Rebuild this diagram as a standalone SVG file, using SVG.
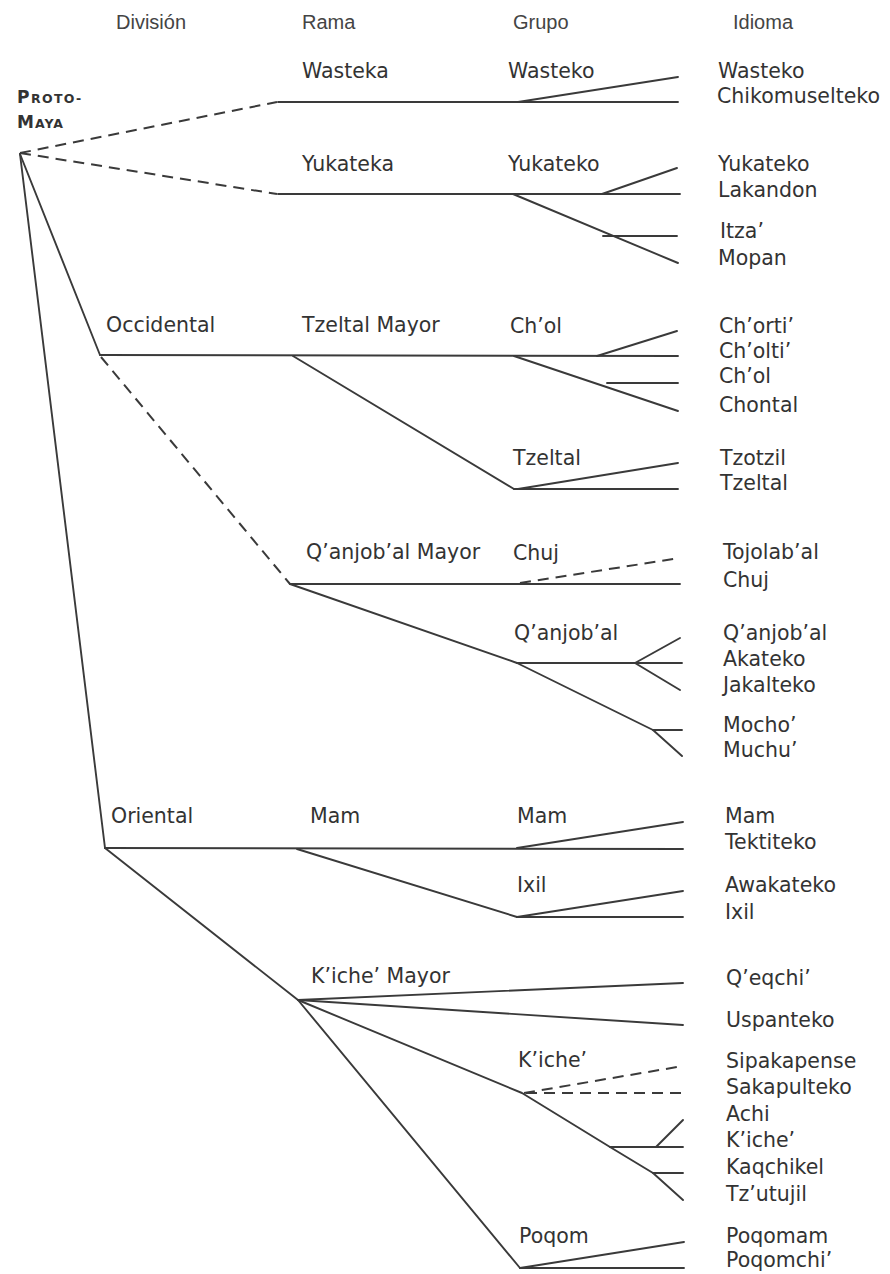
<svg xmlns="http://www.w3.org/2000/svg" width="890" height="1274" viewBox="0 0 890 1274">
<style>
.ln{fill:none;stroke:#3a3a3a;stroke-width:1.9;stroke-linejoin:round;stroke-linecap:round}
.ds{fill:none;stroke:#3a3a3a;stroke-width:2;stroke-dasharray:11 7}
.hd{font-family:"Liberation Sans",Arial,sans-serif;font-size:20px;fill:#444}
.lb{font-family:"DejaVu Sans","Liberation Sans",sans-serif;font-size:20.5px;fill:#333}
.pm{font-family:"DejaVu Sans","Liberation Sans",sans-serif;font-weight:bold;fill:#333}
</style>
<rect width="890" height="1274" fill="#fff"/>
<g id="headers">
<text class="hd" x="116" y="29">División</text>
<text class="hd" x="302" y="29">Rama</text>
<text class="hd" x="513" y="29">Grupo</text>
<text class="hd" x="733" y="29">Idioma</text>
</g>
<g id="connectors">
<line class="ds" x1="20" y1="153" x2="277" y2="102"/>
<line class="ds" x1="20" y1="153" x2="277" y2="194"/>
<line class="ln" x1="20" y1="154" x2="100" y2="355"/>
<line class="ln" x1="20" y1="154" x2="105" y2="848"/>
<line class="ln" x1="278" y1="102" x2="678" y2="102"/>
<line class="ln" x1="518" y1="102" x2="678" y2="77"/>
<line class="ln" x1="278" y1="194" x2="680" y2="194"/>
<line class="ln" x1="602" y1="194" x2="677" y2="168"/>
<polyline class="ln" points="513,194 678,263"/>
<line class="ln" x1="603" y1="236" x2="677" y2="236"/>
<line class="ln" x1="100" y1="355" x2="678" y2="356"/>
<line class="ln" x1="597" y1="356" x2="677" y2="331"/>
<line class="ln" x1="514" y1="356" x2="678" y2="411"/>
<line class="ln" x1="607" y1="383" x2="678" y2="383"/>
<line class="ln" x1="293" y1="356" x2="514" y2="489"/>
<line class="ln" x1="514" y1="489" x2="678" y2="489"/>
<line class="ln" x1="518" y1="489" x2="678" y2="463"/>
<line class="ds" x1="101" y1="357" x2="290" y2="584"/>
<line class="ln" x1="290" y1="584" x2="680" y2="584"/>
<line class="ds" x1="520" y1="583" x2="680" y2="558"/>
<polyline class="ln" points="290,584 517,663 653,730 682,756"/>
<line class="ln" x1="517" y1="663" x2="682" y2="663"/>
<polyline class="ln" points="680,638 635,663 680,690"/>
<line class="ln" x1="653" y1="730" x2="682" y2="730"/>
<line class="ln" x1="105" y1="848" x2="683" y2="849"/>
<line class="ln" x1="517" y1="848" x2="683" y2="822"/>
<line class="ln" x1="297" y1="849" x2="517" y2="917"/>
<line class="ln" x1="517" y1="917" x2="683" y2="917"/>
<line class="ln" x1="517" y1="917" x2="683" y2="891"/>
<line class="ln" x1="105" y1="848" x2="298" y2="1000"/>
<line class="ln" x1="298" y1="1000" x2="683" y2="983"/>
<line class="ln" x1="298" y1="1000" x2="683" y2="1025"/>
<polyline class="ln" points="298,1000 522,1093 610,1147 653,1173 683,1200"/>
<line class="ds" x1="524" y1="1093" x2="683" y2="1066"/>
<line class="ds" x1="526" y1="1093" x2="683" y2="1093"/>
<line class="ln" x1="610" y1="1147" x2="683" y2="1147"/>
<line class="ln" x1="656" y1="1147" x2="683" y2="1120"/>
<line class="ln" x1="653" y1="1173" x2="683" y2="1173"/>
<line class="ln" x1="298" y1="1000" x2="520" y2="1268"/>
<line class="ln" x1="520" y1="1268" x2="684" y2="1268"/>
<line class="ln" x1="520" y1="1268" x2="684" y2="1242"/>
</g>
<g id="proto-maya">
<text class="pm" x="17" y="103" letter-spacing="1.4"><tspan font-size="17">P</tspan><tspan font-size="12.5">ROTO-</tspan></text>
<text class="pm" x="17" y="128" letter-spacing="1"><tspan font-size="17">M</tspan><tspan font-size="12.5">AYA</tspan></text>
</g>
<g id="division">
<text class="lb" x="106" y="332">Occidental</text>
<text class="lb" x="111" y="823">Oriental</text>
</g>
<g id="rama">
<text class="lb" x="302" y="78">Wasteka</text>
<text class="lb" x="302" y="171">Yukateka</text>
<text class="lb" x="302" y="332">Tzeltal Mayor</text>
<text class="lb" x="306" y="559">Q’anjob’al Mayor</text>
<text class="lb" x="310" y="823">Mam</text>
<text class="lb" x="311" y="983">K’iche’ Mayor</text>
</g>
<g id="grupo">
<text class="lb" x="508" y="78">Wasteko</text>
<text class="lb" x="508" y="171">Yukateko</text>
<text class="lb" x="510" y="333">Ch’ol</text>
<text class="lb" x="513" y="465">Tzeltal</text>
<text class="lb" x="513" y="560">Chuj</text>
<text class="lb" x="514" y="640">Q’anjob’al</text>
<text class="lb" x="517" y="823">Mam</text>
<text class="lb" x="517" y="892">Ixil</text>
<text class="lb" x="518" y="1067">K’iche’</text>
<text class="lb" x="519" y="1243">Poqom</text>
</g>
<g id="idioma">
<text class="lb" x="718" y="78">Wasteko</text>
<text class="lb" x="717" y="103">Chikomuselteko</text>
<text class="lb" x="718" y="171">Yukateko</text>
<text class="lb" x="718" y="197">Lakandon</text>
<text class="lb" x="720" y="238">Itza’</text>
<text class="lb" x="718" y="265">Mopan</text>
<text class="lb" x="719" y="333">Ch’orti’</text>
<text class="lb" x="719" y="358">Ch’olti’</text>
<text class="lb" x="719" y="383">Ch’ol</text>
<text class="lb" x="719" y="412">Chontal</text>
<text class="lb" x="720" y="465">Tzotzil</text>
<text class="lb" x="720" y="490">Tzeltal</text>
<text class="lb" x="723" y="559">Tojolab’al</text>
<text class="lb" x="723" y="587">Chuj</text>
<text class="lb" x="723" y="640">Q’anjob’al</text>
<text class="lb" x="723" y="666">Akateko</text>
<text class="lb" x="723" y="692">Jakalteko</text>
<text class="lb" x="723" y="732">Mocho’</text>
<text class="lb" x="723" y="757">Muchu’</text>
<text class="lb" x="725" y="823">Mam</text>
<text class="lb" x="725" y="849">Tektiteko</text>
<text class="lb" x="725" y="892">Awakateko</text>
<text class="lb" x="725" y="919">Ixil</text>
<text class="lb" x="726" y="985">Q’eqchi’</text>
<text class="lb" x="726" y="1027">Uspanteko</text>
<text class="lb" x="726" y="1068">Sipakapense</text>
<text class="lb" x="726" y="1094">Sakapulteko</text>
<text class="lb" x="726" y="1121">Achi</text>
<text class="lb" x="726" y="1147">K’iche’</text>
<text class="lb" x="726" y="1174">Kaqchikel</text>
<text class="lb" x="726" y="1201">Tz’utujil</text>
<text class="lb" x="726" y="1243">Poqomam</text>
<text class="lb" x="726" y="1267">Poqomchi’</text>
</g>
</svg>
